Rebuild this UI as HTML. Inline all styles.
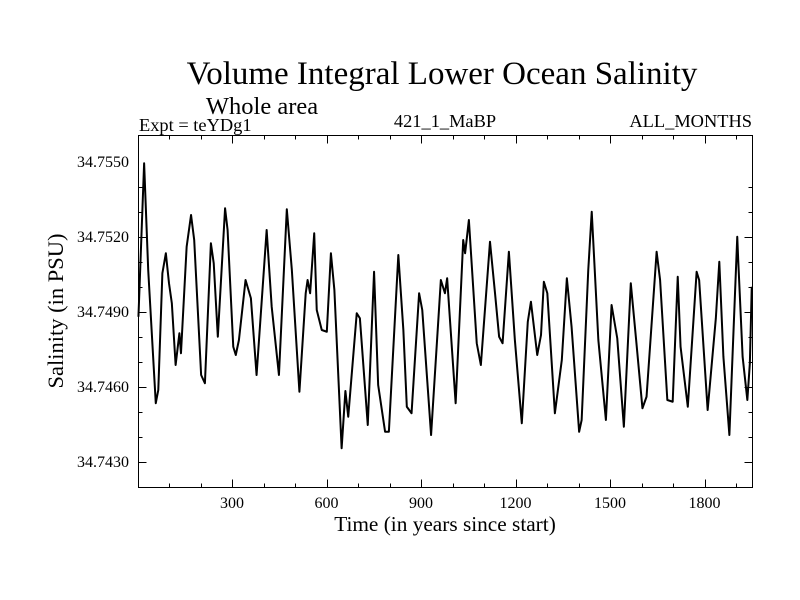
<!DOCTYPE html>
<html>
<head>
<meta charset="utf-8">
<style>
html,body{margin:0;padding:0;background:#fff;}
svg{display:block;font-family:"Liberation Serif",serif;}
</style>
</head>
<body>
<svg id="chart" width="800" height="600" viewBox="0 0 800 600" xmlns="http://www.w3.org/2000/svg">
  <rect x="0" y="0" width="800" height="600" fill="#fff"/>
  <text x="442" y="84" font-size="33" text-anchor="middle">Volume Integral Lower Ocean Salinity</text>
  <text x="262" y="114" font-size="24.5" text-anchor="middle">Whole area</text>
  <text x="139" y="131" font-size="18.4">Expt = teYDg1</text>
  <text x="445" y="127" font-size="18.4" text-anchor="middle">421_1_MaBP</text>
  <text x="752" y="127" font-size="18.4" text-anchor="end">ALL_MONTHS</text>
  <text x="0" y="0" font-size="22.5" text-anchor="middle" transform="translate(63,311) rotate(-90)">Salinity (in PSU)</text>
  <text x="445" y="531" font-size="21.3" text-anchor="middle">Time (in years since start)</text>
  <g id="ticks"></g>
  <g id="labels"></g>
  <path id="series" fill="none" stroke="#000" stroke-width="2" stroke-linejoin="round"/>
  <rect x="138.5" y="135.5" width="614" height="352" fill="none" stroke="#000" stroke-width="1"/>
</svg>
<script>
const years = [3,21,34,58,66,79,90,100,109,121,133,138,156,170,180,202,214,233,242,255,278,286,304,312,322,343,360,378,410,426,449,474,490,514,534,540,548,561,569,585,601,614,625,648,660,669,696,706,731,751,764,786,798,828,844,855,870,894,904,932,963,976,983,1010,1034,1040,1052,1077,1090,1119,1135,1148,1159,1179,1198,1220,1239,1249,1269,1281,1290,1301,1325,1347,1363,1378,1402,1410,1431,1442,1463,1487,1505,1523,1544,1566,1583,1603,1616,1648,1659,1682,1699,1715,1724,1747,1775,1783,1810,1836,1847,1860,1879,1904,1907,1921,1936,1944,1950];
const salinity = [34.74881,34.75495,34.75068,34.74535,34.74588,34.75055,34.75135,34.75015,34.74935,34.74688,34.74815,34.74735,34.75161,34.75288,34.75188,34.74648,34.74615,34.75175,34.75095,34.74801,34.75315,34.75228,34.74761,34.74728,34.74788,34.75028,34.74955,34.74648,34.75228,34.74921,34.74648,34.75311,34.75068,34.74581,34.74975,34.75028,34.74975,34.75215,34.74908,34.74828,34.74821,34.75135,34.74988,34.74355,34.74584,34.74481,34.74895,34.74875,34.74448,34.75061,34.74608,34.74421,34.74421,34.75128,34.74828,34.74521,34.74495,34.74975,34.74908,34.74408,34.75028,34.74975,34.75035,34.74535,34.75188,34.75135,34.75268,34.74775,34.74688,34.75181,34.74975,34.74801,34.74775,34.75141,34.74788,34.74455,34.74861,34.74941,34.74728,34.74808,34.75021,34.74975,34.74495,34.74708,34.75035,34.74841,34.74421,34.74468,34.75068,34.75301,34.74788,34.74468,34.74928,34.74795,34.74441,34.75015,34.74788,34.74515,34.74561,34.75141,34.75028,34.74548,34.74541,34.75041,34.74761,34.74521,34.75061,34.75028,34.74508,34.74875,34.75101,34.74721,34.74408,34.75201,34.75108,34.74721,34.74548,34.74695,34.75001];
const xTickLabels = ["300","600","900","1200","1500","1800"];
const yTickLabels = ["34.7430","34.7460","34.7490","34.7520","34.7550"];

const X0 = 137.5, XPX = 0.315;
const Y0 = 34.7550, YPY = 162, YSC = 25000;
function xs(v){ return X0 + v*XPX; }
function ys(v){ return YPY - (v - Y0)*YSC; }
const NS = "http://www.w3.org/2000/svg";
const L = 138.5, R = 752.5, T = 135.5, B = 487.5;

let d = "";
for (let i = 0; i < years.length; i++) {
  d += (i ? "L" : "M") + xs(years[i]).toFixed(2) + "," + ys(salinity[i]).toFixed(2);
}
document.getElementById("series").setAttribute("d", d);

const tg = document.getElementById("ticks");
const lg = document.getElementById("labels");
function line(x1,y1,x2,y2){
  const l = document.createElementNS(NS,"line");
  l.setAttribute("x1",x1);l.setAttribute("y1",y1);l.setAttribute("x2",x2);l.setAttribute("y2",y2);
  l.setAttribute("stroke","#000");l.setAttribute("stroke-width","1");
  
  
  tg.appendChild(l);
}
for (let yr = 100; yr < 1950; yr += 100) {
  const x = Math.round(xs(yr)) + 0.5;
  const len = (yr % 300 === 0) ? 8 : 4;
  line(x, B, x, B - len);
  line(x, T, x, T + len);
}
for (let k = 0; k < 13; k++) {
  const v = 34.7430 + k*0.001 - 0.001;
  const y = Math.round(ys(v)) + 0.5;
  if (y <= T || y >= B) continue;
  const major = yTickLabels.indexOf(v.toFixed(4)) >= 0;
  const len = major ? 8 : 4;
  line(L, y, L + len, y);
  line(R, y, R - len, y);
}
xTickLabels.forEach(function(s){
  const t = document.createElementNS(NS,"text");
  t.setAttribute("x", xs(parseFloat(s)));
  t.setAttribute("y", 508);
  t.setAttribute("font-size","16");
  t.setAttribute("text-anchor","middle");
  t.textContent = s;
  
  
  lg.appendChild(t);
});
yTickLabels.forEach(function(s){
  const t = document.createElementNS(NS,"text");
  t.setAttribute("x", 129);
  t.setAttribute("y", ys(parseFloat(s)) + 5);
  t.setAttribute("font-size","16");
  t.setAttribute("text-anchor","end");
  t.textContent = s;
  
  
  lg.appendChild(t);
});
</script>
</body>
</html>
